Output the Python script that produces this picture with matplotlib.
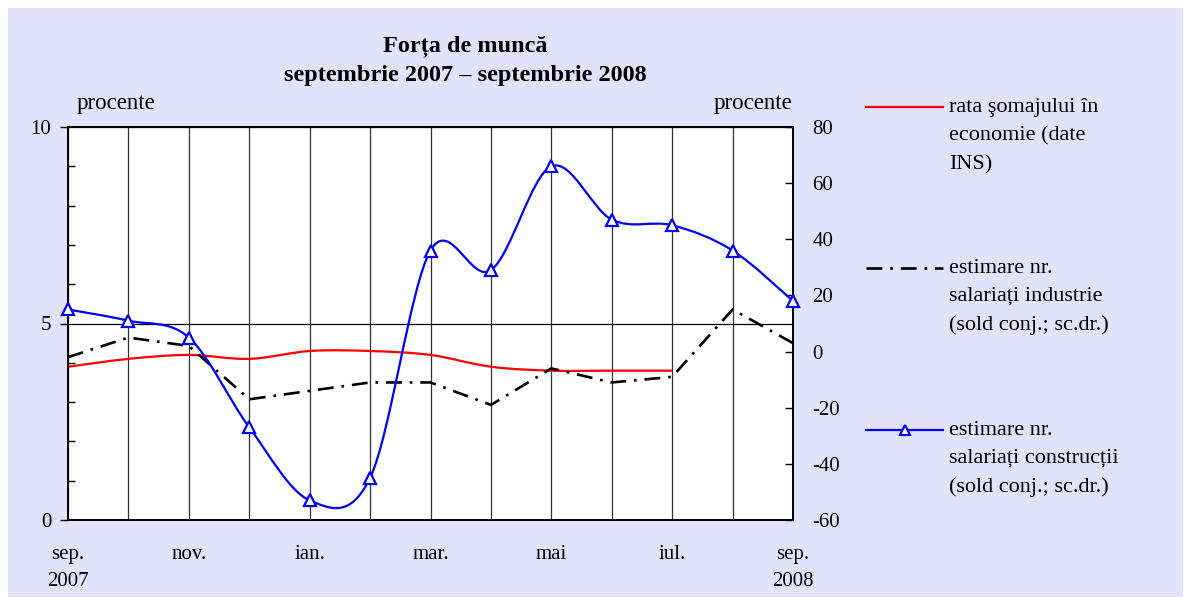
import numpy as np
import matplotlib
matplotlib.use('Agg')
import matplotlib.pyplot as plt
from matplotlib.path import Path
from matplotlib.patches import PathPatch, Rectangle
from matplotlib.lines import Line2D
from matplotlib.ticker import MultipleLocator

plt.rcParams['font.family'] = ['Liberation Serif', 'DejaVu Serif']
plt.rcParams['axes.unicode_minus'] = False

# luni sep 2007 - sep 2008
months = ['sep.\n2007', 'oct.', 'nov.', 'dec.', 'ian.', 'feb.', 'mar.',
          'apr.', 'mai', 'iun.', 'iul.', 'aug.', 'sep.\n2008']
shown = ['sep.\n2007', '', 'nov.', '', 'ian.', '', 'mar.',
         '', 'mai', '', 'iul.', '', 'sep.\n2008']

somaj = [3.9, 4.1, 4.2, 4.1, 4.3, 4.3, 4.2, 3.9, 3.8, 3.8, 3.8]   # procente, sc.st.
industrie = [-2, 5, 2, -17, -14, -11, -11, -19, -6, -11, -9, 15, 3]   # sold conj., sc.dr.
constructii = [15, 11, 5, -27, -53, -45, 36, 29, 66, 47, 45, 36, 18]  # sold conj., sc.dr.

lbl_somaj = 'rata şomajului în\neconomie (date\nINS)'
lbl_ind = 'estimare nr.\nsalariați industrie\n(sold conj.; sc.dr.)'
lbl_con = 'estimare nr.\nsalariați construcții\n(sold conj.; sc.dr.)'

bg = '#E2E2FB'
W, H = 1190, 598


def smooth_path(x, y):
    # curba "smoothed line" ca in Excel
    n = len(x)
    verts = [(x[0], y[0])]
    codes = [Path.MOVETO]
    for i in range(n - 1):
        xp, yp = (x[i - 1], y[i - 1]) if i > 0 else (x[i], y[i])
        xn, yn = (x[i + 2], y[i + 2]) if i + 2 < n else (x[i + 1], y[i + 1])
        c1 = (x[i] + (x[i + 1] - xp) / 6, y[i] + (y[i + 1] - yp) / 6)
        c2 = (x[i + 1] - (xn - x[i]) / 6, y[i + 1] - (yn - y[i]) / 6)
        verts += [c1, c2, (x[i + 1], y[i + 1])]
        codes += [Path.CURVE4] * 3
    return Path(verts, codes)


def fx(px):
    return px / W


def fy(py):
    return 1 - py / H


fig = plt.figure(figsize=(11.9, 5.98), dpi=100, facecolor='white')
fig.patches.append(Rectangle((fx(8), fy(597)), fx(1183) - fx(8), fy(8) - fy(597),
                             transform=fig.transFigure, facecolor=bg, edgecolor='none', zorder=-10))

ax1 = fig.add_axes([fx(68), fy(520), fx(793) - fx(68), fy(127) - fy(520)])
ax2 = ax1.twinx()
ax1.set_facecolor('white')
ax2.patch.set_visible(False)

x = np.arange(len(months))
xs = np.arange(len(somaj))

ax1.add_patch(PathPatch(smooth_path(xs, somaj), fill=False, edgecolor='#FF0000', lw=1.6, zorder=3))
ax2.plot(x, industrie, color='black', lw=1.9, dashes=(6, 3, 1, 3), zorder=3)
ax2.add_patch(PathPatch(smooth_path(x, constructii), fill=False, edgecolor='#0000FF', lw=1.6, zorder=4))
ax2.plot(x, constructii, ls='none', marker='^', ms=8, mfc='white', mec='#0000FF', mew=1.6, zorder=5,
         clip_on=False)

ax1.set_xlim(0, len(months) - 1)
ax1.set_ylim(0, 10)
ax2.set_ylim(-60, 80)

ax1.set_xticks(x)
ax1.set_xticklabels(shown, fontsize=15, linespacing=1.6)
ax1.tick_params(axis='x', length=0, pad=18)
ax1.grid(axis='x', color='#333333', lw=0.9)
ax1.yaxis.set_major_locator(MultipleLocator(5))
ax1.yaxis.set_minor_locator(MultipleLocator(1))
ax1.grid(axis='y', which='major', color='black', lw=0.9)
ax1.tick_params(axis='y', which='major', direction='out', length=6, width=1, labelsize=15, pad=6)
ax1.tick_params(axis='y', which='minor', direction='in', length=5, width=1, left=True)
ax1.set_axisbelow(True)

ax2.yaxis.set_major_locator(MultipleLocator(20))
ax2.tick_params(axis='y', direction='in', length=6, width=1, labelsize=15, pad=14)

for ax in (ax1, ax2):
    for s in ax.spines.values():
        s.set_color('black')
        s.set_linewidth(1.2)

fig.text(fx(465), fy(46), 'Forța de muncă', ha='center', va='center', fontsize=17.5, fontweight='bold')
fig.text(fx(465), fy(76), 'septembrie 2007 – septembrie 2008', ha='center', va='center',
         fontsize=17.5, fontweight='bold')
fig.text(fx(77), fy(104), 'procente', ha='left', va='center', fontsize=16.5)
fig.text(fx(792), fy(104), 'procente', ha='right', va='center', fontsize=16.5)

# legenda
leg = [
    (107, dict(color='#FF0000', lw=1.6), lbl_somaj),
    (268, dict(color='black', lw=1.9, dashes=(6, 3, 1, 3)), lbl_ind),
    (430, dict(color='#0000FF', lw=1.6), lbl_con),
]
for py, style, txt in leg:
    fig.add_artist(Line2D([fx(866), fx(943)], [fy(py), fy(py)], transform=fig.transFigure, **style))
    fig.text(fx(949), fy(py - 9), txt, ha='left', va='top', fontsize=16, linespacing=1.65)
fig.add_artist(Line2D([fx(905)], [fy(430)], transform=fig.transFigure, ls='none', marker='^', ms=7,
                      mfc='white', mec='#0000FF', mew=1.5))

fig.savefig('out.png', dpi=100, facecolor='white')
